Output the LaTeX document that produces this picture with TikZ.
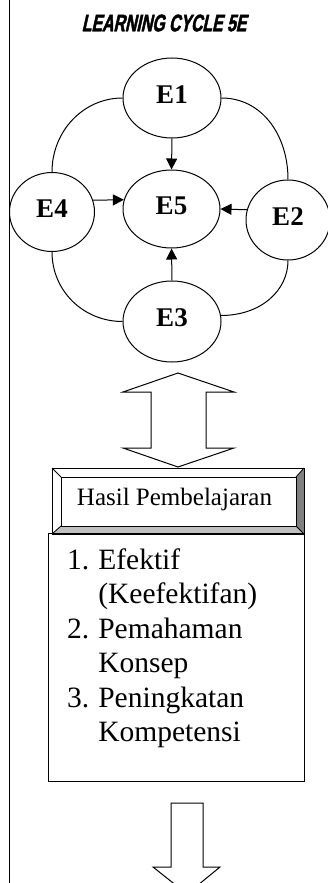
\documentclass[tikz,border=0pt]{standalone}
\usepackage{fontspec}
\setmainfont{Liberation Serif}
\newfontfamily\titlefont[FakeStretch=0.66,FakeSlant=0.22,FakeBold=1.8]{Liberation Sans Bold}
\usetikzlibrary{shapes.geometric,arrows.meta}
\definecolor{bevdark}{RGB}{128,128,128}
\definecolor{bevlight}{RGB}{192,192,192}
\newcommand{\uplabel}[1]{\raisebox{7pt}{#1}}
\tikzset{
  phase/.style={draw,ellipse,line width=1pt,inner sep=0pt,font=\fontsize{27}{27}\selectfont\bfseries},
  ring/.style={line width=1pt},
  flow/.style={line width=1pt,-{Triangle[length=11pt,width=11pt]}},
  bigarrow/.style={draw,line width=1pt,fill=white,line join=miter},
  itemtext/.style={font=\fontsize{29.5}{34.5}\selectfont,align=left,inner sep=0pt,anchor=north west}
}
\begin{document}
\begin{tikzpicture}[x=1pt,y=-1pt]
\useasboundingbox (0,0) rectangle (328,883);
\clip (0,0) rectangle (328,883);
\fill[white] (0,0) rectangle (328,883);

% left rule
\draw[line width=1.3pt] (9.5,0) -- (9.5,883);

% title
\node (title) at (164,23) {\titlefont\fontsize{24}{24}\selectfont LEARNING CYCLE 5E};

% the five phases
\node[phase,minimum width=98pt,minimum height=80pt] (e1) at (172,98) {\uplabel{E1}};
\node[phase,minimum width=97pt,minimum height=78pt] (e5) at (171.5,209) {\uplabel{E5}};
\node[phase,minimum width=85pt,minimum height=79pt] (e4) at (52,212) {\uplabel{E4}};
\node[phase,minimum width=84pt,minimum height=80pt] (e2) at (288,220) {\uplabel{E2}};
\node[phase,minimum width=98pt,minimum height=81pt] (e3) at (172,321.5) {\uplabel{E3}};

% outer cycle arcs
\draw[ring] (e1.west) .. controls +(-39,0) and +(0,-41) .. (e4.north);
\draw[ring] (e1.east) .. controls +(40,0) and +(0,-45) .. (e2.north);
\draw[ring] (e4.south) .. controls +(0,39) and +(-39,0) .. (e3.west);
\draw[ring] (e2.south) .. controls +(0,30) and +(40,0) .. (e3.7);

% arrows into E5
\draw[flow] (e1.south) -- (e5.north);
\draw[flow] (e4.16) -- (e5.169);
\draw[flow] (e2.166) -- (e5.east);
\draw[flow] (e3.north) -- (e5.south);

% up-down block arrow
\draw[bigarrow] (178,373) -- (234,392) -- (206,392) -- (206,448) -- (234,448)
  -- (178,467) -- (123,448) -- (151,448) -- (151,392) -- (123,392) -- cycle;

% bevelled title box
\coordinate (bo1) at (52,468);
\coordinate (bo2) at (304,534);
\coordinate (bi1) at (61,477);
\coordinate (bi2) at (296,526);
\fill[white] (52,468) -- (304,468) -- (296,477) -- (61,477) -- cycle;
\fill[white] (52,468) -- (61,477) -- (61,526) -- (52,534) -- cycle;
\fill[bevdark] (304,468) -- (296,477) -- (296,526) -- (304,534) -- cycle;
\fill[bevlight] (52,534) -- (61,526) -- (296,526) -- (304,534) -- cycle;
\draw[line width=1pt] (bo1) rectangle (bo2);
\draw[line width=1pt,fill=white] (bi1) rectangle (bi2);
\draw[line width=0.8pt] (52,468) -- (61,477) (304,468) -- (296,477)
  (52,534) -- (61,526) (304,534) -- (296,526);
\node[font=\fontsize{25}{25}\selectfont,inner sep=0pt] (hasil) at (174.5,499) {Hasil Pembelajaran};

% results box
\node[draw,line width=1pt,minimum width=256pt,minimum height=248pt,inner sep=0pt] (hasilbox) at (176,657) {};
\node[itemtext] (items) at (67,545) {%
  \begin{tabular}{@{}l@{\hspace{9pt}}l@{}}
  1. & Efektif\\
     & (Keefektifan)\\
  2. & Pemahaman\\
     & Konsep\\
  3. & Peningkatan\\
     & Kompetensi
  \end{tabular}};

% down block arrow
\draw[bigarrow] (171,803) -- (203,803) -- (203,867) -- (220,867) -- (187,894)
  -- (153,867) -- (171,867) -- cycle;
\end{tikzpicture}
\end{document}
